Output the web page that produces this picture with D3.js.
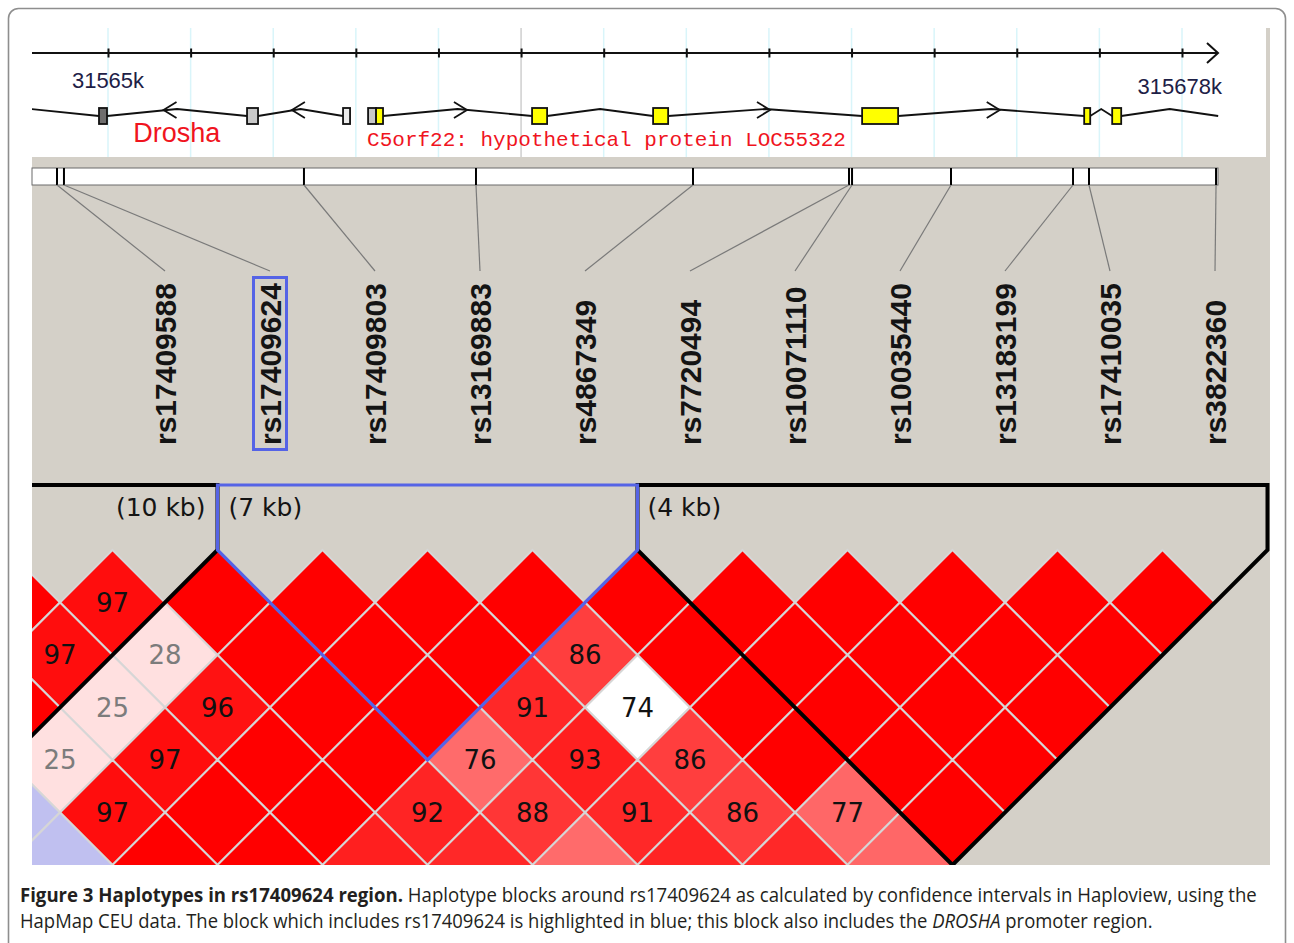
<!DOCTYPE html>
<html>
<head>
<meta charset="utf-8">
<script src="https://cdn.jsdelivr.net/npm/d3@7"></script>
<style>
  html, body { margin: 0; padding: 0; background: #ffffff; }
  svg { display: block; }
</style>
</head>
<body>
<svg id="fig" width="1294" height="943"></svg>
<script>
// ---------------------------------------------------------------
// Data
// ---------------------------------------------------------------

// SNP markers shown in the LD display, in map order
const markerNames = ["rs17409588", "rs17409624", "rs17409803", "rs13169883", "rs4867349",
  "rs7720494", "rs10071110", "rs10035440", "rs13183199", "rs17410035", "rs3822360"];
// physical position of each marker (kb)
const markerKb = [31564.383, 31564.467, 31567.372, 31569.454, 31572.081,
  31573.969, 31574.006, 31575.204, 31576.681, 31576.874, 31578.412];
const highlightMarker = "rs17409624";

// genomic ruler (kb)
const rulerTicksKb = d3.range(31565, 31579);
const rulerStartLabel = "31565k";
const rulerEndLabel = "315678k";
const rulerCentreKb = 31570;

// gene models: exons [startKb, endKb, fill]
const droshaExons = [
  [31564.891, 31564.988, "#6e6e6e"],
  [31566.683, 31566.816, "#c8c8c8"],
  [31567.845, 31567.930, "#ececec"],
  [31568.148, 31568.245, "#c8c8c8"]
];
const c5orf22Exons = [
  [31568.245, 31568.329, "#ffff00"],
  [31570.133, 31570.315, "#ffff00"],
  [31571.598, 31571.780, "#ffff00"],
  [31574.128, 31574.564, "#ffff00"],
  [31576.816, 31576.889, "#ffff00"],
  [31577.155, 31577.264, "#ffff00"]
];
// introns [startKb, endKb]
const droshaIntrons = [
  [31563.230, 31564.891],
  [31564.988, 31566.683],
  [31566.816, 31567.845]
];
const c5orf22Introns = [
  [31568.329, 31570.133],
  [31570.315, 31571.598],
  [31571.780, 31574.128],
  [31574.564, 31576.816],
  [31576.889, 31577.155],
  [31577.264, 31578.438]
];
// strand arrows: [tip kb, direction]
const strandArrows = [
  [31565.672, -1], [31567.226, -1],
  [31569.345, 1], [31573.013, 1], [31575.794, 1]
];
const geneLabels = ["Drosha", "C5orf22: hypothetical protein LOC55322"];
const geneLabelKb = [31565.306, 31568.136];

// Pairwise D' (x100) by marker distance. Column 0 is rs17409588; negative
// columns are markers further upstream. rowStart = first column of each row.
const rowStart = [-2, -2, -3, -3, -4, -4];
const dPrimeRows = [
  [100, 97, 100, 100, 100, 100, 100, 100, 100, 100, 100, 100],
  [97, 28, 100, 100, 100, 86, 100, 100, 100, 100, 100],
  [100, 25, 96, 100, 100, 91, 74, 100, 100, 100, 100],
  [25, 97, 100, 100, 76, 93, 86, 100, 100, 100],
  [100, 97, 100, 100, 92, 88, 91, 86, 77, 100],
  [100, 100, 100, 93, 91, 76, 92, 91, 77]
];
// pairs with LOD < 2 (first column, second column)
const lowLodPairs = [[3, 6], [-4, 1], [-4, 2]];

// haplotype blocks: first column, last column, label, highlighted
const blockFirst = [-6, 1, 5];
const blockLast = [0, 4, 10];
const blockLabels = ["(10 kb)", "(7 kb)", "(4 kb)"];
const blockHighlighted = [false, true, false];

// caption
const captionBold = "Figure 3 Haplotypes in rs17409624 region.";
const captionLine1 = " Haplotype blocks around rs17409624 as calculated by confidence intervals in Haploview, using the";
const captionLine2a = "HapMap CEU data. The block which includes rs17409624 is highlighted in blue; this block also includes the ";
const captionItalic = "DROSHA";
const captionLine2b = " promoter region.";

// ---------------------------------------------------------------
// Layout
// ---------------------------------------------------------------
const svg = d3.select("#fig");
const panel = { x0: 32, x1: 1270, y0: 28, y1: 865 };
const track = { x1: 1266, y1: 157 };
const bar = { y0: 168, y1: 185, x1: 1218 };
const labelBase = 445, connectorEnd = 271;
const ldTop = 550;
const grey = "#d4d0c8";

const xKb = d3.scaleLinear().domain([31565, 31578]).range([108, 1182]);
const colX = d3.scaleLinear().domain([0, 10]).range([165, 1215]);
const half = (colX(1) - colX(0)) / 2;
const rowY = d3.scaleLinear().domain([0, 1]).range([ldTop, ldTop + half]);

// figure frame
svg.append("rect")
  .attr("x", 8.5).attr("y", 8.5).attr("width", 1277).attr("height", 960).attr("rx", 10)
  .attr("fill", "#ffffff").attr("stroke", "#8e8e8e").attr("stroke-width", 1.6);

// Haploview panel
svg.append("rect")
  .attr("x", panel.x0).attr("y", panel.y0)
  .attr("width", panel.x1 - panel.x0).attr("height", panel.y1 - panel.y0)
  .attr("fill", grey);
svg.append("rect")
  .attr("x", panel.x0).attr("y", panel.y0)
  .attr("width", track.x1 - panel.x0).attr("height", track.y1 - panel.y0)
  .attr("fill", "#ffffff");

const defs = svg.append("defs");
defs.append("clipPath").attr("id", "trackClip").append("rect")
  .attr("x", panel.x0).attr("y", panel.y0)
  .attr("width", track.x1 - panel.x0).attr("height", track.y1 - panel.y0);
defs.append("clipPath").attr("id", "ldClip").append("rect")
  .attr("x", panel.x0).attr("y", 450)
  .attr("width", panel.x1 - panel.x0).attr("height", panel.y1 - 450);

// ---------------------------------------------------------------
// Gene track
// ---------------------------------------------------------------
const gTrack = svg.append("g").attr("clip-path", "url(#trackClip)");

// light vertical guides at each ruler tick
gTrack.selectAll("line.guide").data(rulerTicksKb).join("line")
  .attr("class", "guide")
  .attr("x1", d => xKb(d)).attr("x2", d => xKb(d))
  .attr("y1", panel.y0).attr("y2", track.y1)
  .attr("stroke", d => d === rulerCentreKb ? "#cfcfcf" : "#d9f5fa")
  .attr("stroke-width", 1.5);

// ruler
const rulerY = 53;
gTrack.append("line")
  .attr("x1", panel.x0).attr("x2", bar.x1)
  .attr("y1", rulerY).attr("y2", rulerY)
  .attr("stroke", "#111").attr("stroke-width", 2);
const rulerAxis = d3.axisBottom(xKb).tickValues(rulerTicksKb).tickSizeInner(9).tickSizeOuter(0).tickFormat("");
const gAxis = gTrack.append("g").attr("transform", `translate(0,${rulerY - 4.5})`).call(rulerAxis);
gAxis.select(".domain").remove();
gAxis.selectAll(".tick line").attr("stroke", "#111").attr("stroke-width", 2);
gTrack.append("path")
  .attr("d", `M${bar.x1 - 11},${rulerY - 10} L${bar.x1},${rulerY} L${bar.x1 - 11},${rulerY + 10}`)
  .attr("fill", "none").attr("stroke", "#111").attr("stroke-width", 2);

gTrack.append("text")
  .attr("x", xKb(rulerTicksKb[0])).attr("y", 88)
  .attr("text-anchor", "middle")
  .attr("font-family", "Liberation Sans, Arial, sans-serif").attr("font-size", 22)
  .attr("fill", "#1d2046").text(rulerStartLabel);
gTrack.append("text")
  .attr("x", bar.x1 + 4).attr("y", 94)
  .attr("text-anchor", "end")
  .attr("font-family", "Liberation Sans, Arial, sans-serif").attr("font-size", 22)
  .attr("fill", "#1d2046").text(rulerEndLabel);

// introns drawn as shallow hats
const geneY = 116, hat = 7;
const intronPath = ([s, e]) => `M${xKb(s)},${geneY} L${(xKb(s) + xKb(e)) / 2},${geneY - hat} L${xKb(e)},${geneY}`;
gTrack.selectAll("path.intron").data(droshaIntrons.concat(c5orf22Introns)).join("path")
  .attr("class", "intron")
  .attr("d", intronPath)
  .attr("fill", "none").attr("stroke", "#111").attr("stroke-width", 1.8);

// strand arrows
gTrack.selectAll("path.strand").data(strandArrows).join("path")
  .attr("class", "strand")
  .attr("d", ([kb, dir]) => {
    const tx = xKb(kb), ty = geneY - hat + 1;
    return `M${tx - dir * 13},${ty - 8} L${tx},${ty} L${tx - dir * 13},${ty + 8}`;
  })
  .attr("fill", "none").attr("stroke", "#111").attr("stroke-width", 1.8);

// exons
gTrack.selectAll("rect.exon").data(droshaExons.concat(c5orf22Exons)).join("rect")
  .attr("class", "exon")
  .attr("x", d => xKb(d[0])).attr("width", d => xKb(d[1]) - xKb(d[0]))
  .attr("y", geneY - 8).attr("height", 16)
  .attr("fill", d => d[2]).attr("stroke", "#111").attr("stroke-width", 1.8);

// gene names
gTrack.append("text")
  .attr("x", xKb(geneLabelKb[0])).attr("y", 142)
  .attr("font-family", "Liberation Sans, Arial, sans-serif").attr("font-size", 27)
  .attr("fill", "#f0141e").text(geneLabels[0]);
gTrack.append("text")
  .attr("x", xKb(geneLabelKb[1])).attr("y", 146)
  .attr("font-family", "Liberation Mono, DejaVu Sans Mono, monospace").attr("font-size", 21)
  .attr("fill", "#f0141e").text(geneLabels[1]);

// ---------------------------------------------------------------
// Marker map bar, connectors and names
// ---------------------------------------------------------------
svg.append("rect")
  .attr("x", panel.x0).attr("y", bar.y0)
  .attr("width", bar.x1 - panel.x0).attr("height", bar.y1 - bar.y0)
  .attr("fill", "#ffffff").attr("stroke", "#6a6a6a").attr("stroke-width", 1);

svg.selectAll("line.mtick").data(markerKb).join("line")
  .attr("class", "mtick")
  .attr("x1", d => xKb(d)).attr("x2", d => xKb(d))
  .attr("y1", bar.y0).attr("y2", bar.y1)
  .attr("stroke", "#000").attr("stroke-width", 2);

svg.selectAll("line.connector").data(markerKb).join("line")
  .attr("class", "connector")
  .attr("x1", d => xKb(d)).attr("y1", bar.y1)
  .attr("x2", (d, i) => colX(i)).attr("y2", connectorEnd)
  .attr("stroke", "#7a7a7a").attr("stroke-width", 1.2);

svg.selectAll("text.marker").data(markerNames).join("text")
  .attr("class", "marker")
  .attr("transform", (d, i) => `translate(${colX(i)},${labelBase}) rotate(-90)`)
  .attr("dy", "0.36em")
  .attr("font-family", "Liberation Sans, Arial, sans-serif").attr("font-weight", "bold")
  .attr("font-size", 30).attr("fill", "#141414")
  .text(d => d);

const hi = markerNames.indexOf(highlightMarker);
svg.append("rect")
  .attr("x", colX(hi) - 16.5).attr("y", 277.5)
  .attr("width", 33).attr("height", 172)
  .attr("fill", "none").attr("stroke", "#5563e6").attr("stroke-width", 3);

// ---------------------------------------------------------------
// LD diamonds
// ---------------------------------------------------------------
function ldColor(d, lodHigh) {
  if (lodHigh) {
    if (d < 50) return "rgb(255,224,224)";
    const v = Math.round((255 - 32) * 2 * (1 - d / 100));
    return `rgb(255,${v},${v})`;
  }
  if (d > 99) return "rgb(192,192,240)";
  return "#ffffff";
}

const cells = [];
dPrimeRows.forEach((vals, r) => {
  const dist = r + 1;
  vals.forEach((d, k) => {
    const i = rowStart[r] + k, j = i + dist;
    const lodHigh = !lowLodPairs.some(p => p[0] === i && p[1] === j);
    cells.push({ i, j, d, lodHigh, cx: (colX(i) + colX(j)) / 2, cy: rowY(dist) });
  });
});

const gLD = svg.append("g").attr("clip-path", "url(#ldClip)");
gLD.selectAll("path.cell").data(cells).join("path")
  .attr("class", "cell")
  .attr("d", c => `M${c.cx},${c.cy - half} L${c.cx + half},${c.cy} L${c.cx},${c.cy + half} L${c.cx - half},${c.cy} Z`)
  .attr("fill", c => ldColor(c.d, c.lodHigh))
  .attr("stroke", "#d6d6d6").attr("stroke-width", 2);

gLD.selectAll("text.val").data(cells.filter(c => c.d < 100 && c.cy < panel.y1 - 20)).join("text")
  .attr("class", "val")
  .attr("x", c => c.cx).attr("y", c => c.cy)
  .attr("dy", "0.36em").attr("text-anchor", "middle")
  .attr("font-family", "DejaVu Sans, sans-serif").attr("font-size", 26)
  .attr("fill", c => (c.lodHigh && c.d < 50) ? "#7c7c7c" : "#111")
  .text(c => c.d);

// block outlines
const blockTop = 485;
const blockIdx = d3.range(blockFirst.length).sort((a, b) => blockHighlighted[a] - blockHighlighted[b]);
gLD.selectAll("path.block").data(blockIdx).join("path")
  .attr("class", "block")
  .attr("d", b => {
    const a = blockFirst[b], z = blockLast[b];
    const left = colX(a) - half, right = colX(z) + half;
    const apexX = (colX(a) + colX(z)) / 2, apexY = rowY(z - a + 1);
    return `M${left},${ldTop} L${left},${blockTop} L${right},${blockTop} L${right},${ldTop} L${apexX},${apexY} Z`;
  })
  .attr("fill", "none")
  .attr("stroke", b => blockHighlighted[b] ? "#5563e6" : "#000")
  .attr("stroke-width", b => blockHighlighted[b] ? 3.2 : 4)
  .attr("stroke-linejoin", "miter");

// block sizes
const blockLabelX = [colX(blockLast[0]) + half - 12, colX(blockFirst[1]) - half + 11, colX(blockFirst[2]) - half + 10];
const blockLabelAnchor = ["end", "start", "start"];
svg.selectAll("text.blocklab").data(blockLabels).join("text")
  .attr("class", "blocklab")
  .attr("x", (d, i) => blockLabelX[i]).attr("y", 516)
  .attr("text-anchor", (d, i) => blockLabelAnchor[i])
  .attr("font-family", "DejaVu Sans, sans-serif").attr("font-size", 25)
  .attr("fill", "#141414").text(d => d);

// ---------------------------------------------------------------
// Caption
// ---------------------------------------------------------------
const capFont = "Open Sans, Noto Sans, sans-serif";
function captionLine(y, parts, targetWidth) {
  const t = svg.append("text")
    .attr("font-family", capFont).attr("font-size", 20).attr("fill", "#231f20");
  parts.forEach(p => {
    t.append("tspan")
      .attr("font-weight", p.bold ? "bold" : "normal")
      .attr("font-style", p.italic ? "italic" : "normal")
      .text(p.text);
  });
  const w = t.node().getComputedTextLength();
  t.attr("transform", `translate(20,${y}) scale(${targetWidth / w},1)`);
}
captionLine(902, [{ text: captionBold, bold: true }, { text: captionLine1 }], 1238);
captionLine(928, [{ text: captionLine2a }, { text: captionItalic, italic: true }, { text: captionLine2b }], 1133);
</script>
</body>
</html>
